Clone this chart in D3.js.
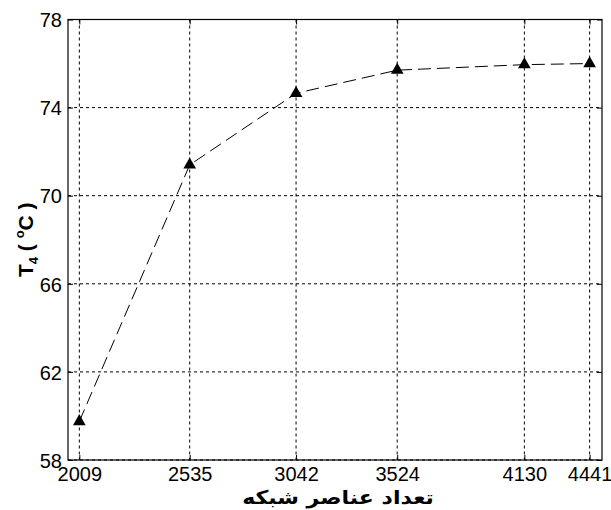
<!DOCTYPE html>
<html><head><meta charset="utf-8">
<script src="https://cdn.jsdelivr.net/npm/d3@7"></script>
<style>body{margin:0;background:#fff}svg{display:block}</style>
</head><body>
<script>
const elements = [2009, 2535, 3042, 3524, 4130, 4441];
const temps = [59.75, 71.4, 74.65, 75.7, 75.95, 76.0];
const yTicks = [58, 62, 66, 70, 74, 78];
const xTicks = elements;
const xTitle = "تعداد عناصر شبکه";

const W = 611, H = 510;
const L = 68, R = 602, T = 19.5, B = 460;
const svg = d3.select("body").append("svg").attr("width", W).attr("height", H);
const x = d3.scaleLinear().domain([1955, 4500]).range([L, R]);
const y = d3.scaleLinear().domain([58, 78]).range([B, T]);

// grid
const g = svg.append("g");
g.selectAll(".vg").data(xTicks).enter().append("line")
  .attr("x1", d => x(d)).attr("x2", d => x(d)).attr("y1", T).attr("y2", B)
  .attr("stroke", "#000").attr("stroke-width", 1).attr("stroke-dasharray", "3,3");
g.selectAll(".hg").data(yTicks).enter().append("line")
  .attr("x1", L).attr("x2", R).attr("y1", d => y(d)).attr("y2", d => y(d))
  .attr("stroke", "#000").attr("stroke-width", 1).attr("stroke-dasharray", "3,3");

// axes
const fontT = "'Liberation Sans', Arial, sans-serif";
const ax = svg.append("g").attr("transform", `translate(0,${B})`)
  .call(d3.axisBottom(x).tickValues(xTicks).tickFormat(d3.format("d")).tickSizeInner(-5).tickSizeOuter(0).tickPadding(7));
const ay = svg.append("g").attr("transform", `translate(${L},0)`)
  .call(d3.axisLeft(y).tickValues(yTicks).tickSizeInner(-5).tickSizeOuter(0).tickPadding(6));
const at = svg.append("g").attr("transform", `translate(0,${T})`)
  .call(d3.axisTop(x).tickValues(xTicks).tickFormat("").tickSizeInner(-5).tickSizeOuter(0));
const ar = svg.append("g").attr("transform", `translate(${R},0)`)
  .call(d3.axisRight(y).tickValues(yTicks).tickFormat("").tickSizeInner(-5).tickSizeOuter(0));
[ax, ay, at, ar].forEach(a => {
  a.select(".domain").remove();
  a.selectAll("line").attr("stroke", "#000");
  a.selectAll("text").attr("font-family", fontT).attr("font-size", 20).attr("fill", "#000");
});
ay.selectAll("text").attr("dy", "0.36em");
svg.append("rect").attr("x", L).attr("y", T).attr("width", R - L).attr("height", B - T)
  .attr("fill", "none").attr("stroke", "#000").attr("stroke-width", 1.2);

// line
const line = d3.line().x((d, i) => x(elements[i])).y(d => y(d));
svg.append("path").datum(temps).attr("d", line).attr("fill", "none")
  .attr("stroke", "#000").attr("stroke-width", 1).attr("stroke-dasharray", "13,6");

// markers
svg.selectAll(".mk").data(temps).enter().append("path")
  .attr("d", d3.symbol(d3.symbolTriangle, 70))
  .attr("transform", (d, i) => `translate(${x(elements[i])},${y(d)})`)
  .attr("fill", "#000");

// x title
svg.append("text").attr("transform", `translate(${(L + R) / 2 + 3},504) scale(1.16,1)`)
  .attr("text-anchor", "middle")
  .attr("font-family", "'DejaVu Sans', sans-serif").attr("font-weight", "bold").attr("font-size", 19)
  .attr("direction", "rtl").text(xTitle);

// y title
const yt = svg.append("text").attr("transform", `translate(33,${(T + B) / 2}) rotate(-90)`)
  .attr("text-anchor", "middle").attr("font-family", fontT).attr("font-weight", "bold").attr("font-size", 21);
yt.append("tspan").text("T");
yt.append("tspan").attr("font-size", 13).attr("dy", 5).text("4");
yt.append("tspan").attr("dy", -5).text(" ( ");
yt.append("tspan").attr("font-size", 13).attr("dy", -9).text("o");
yt.append("tspan").attr("dy", 9).text("C )");
</script>
</body></html>
